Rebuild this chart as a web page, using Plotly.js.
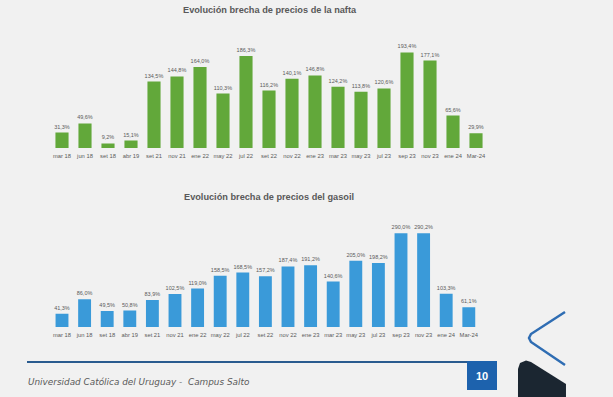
<!DOCTYPE html>
<html>
<head>
<meta charset="utf-8">
<script src="https://cdn.plot.ly/plotly-3.0.1.min.js"></script>
<style>
html,body{margin:0;padding:0;background:#f1f1f1;}
#chart{width:613px;height:397px;}
</style>
</head>
<body>
<div id="chart"></div>
<script>
const categories = ["mar 18","jun 18","set 18","abr 19","set 21","nov 21","ene 22","may 22","jul 22","set 22","nov 22","ene 23","mar 23","may 23","jul 23","sep 23","nov 23","ene 24","Mar-24"];
const nafta = [31.3, 49.6, 9.2, 15.1, 134.5, 144.8, 164.0, 110.3, 186.3, 116.2, 140.1, 146.8, 124.2, 113.8, 120.6, 193.4, 177.1, 65.6, 29.9];
const gasoil = [41.3, 86.0, 49.5, 50.8, 83.9, 102.5, 119.0, 158.5, 168.5, 157.2, 187.4, 191.2, 140.6, 205.0, 198.2, 290.0, 290.2, 103.3, 61.1];
const titleNafta = "Evolución brecha de precios de la nafta";
const titleGasoil = "Evolución brecha de precios del gasoil";
const footerText = "Universidad Católica del Uruguay -  Campus Salto";
const pageNumber = "10";

const W = 613, H = 397;
const px = x => x / W;
const py = y => 1 - y / H;
function path(pts, close) {
  return pts.map((p, i) => (i ? 'L' : 'M') + px(p[0]).toFixed(4) + ',' + py(p[1]).toFixed(4)).join(' ') + (close ? ' Z' : '');
}

const labelFont = {family: 'Liberation Sans, Arial, sans-serif', size: 5.5, color: '#5a5a5a'};

const traces = [
  {type: 'bar', x: categories, y: nafta, xaxis: 'x', yaxis: 'y',
   marker: {color: '#62a83a'}, texttemplate: '%{y:.1f}%', textposition: 'outside',
   textfont: labelFont, constraintext: 'none', cliponaxis: false, hoverinfo: 'none'},
  {type: 'bar', x: categories, y: gasoil, xaxis: 'x2', yaxis: 'y2',
   marker: {color: '#3a9ad9'}, texttemplate: '%{y:.1f}%', textposition: 'outside',
   textfont: labelFont, constraintext: 'none', cliponaxis: false, hoverinfo: 'none'}
];

const xCommon = {type: 'category', showgrid: false, zeroline: false, showline: false, ticks: '',
  ticklabelstandoff: 3,
  tickfont: {family: 'Liberation Sans, Arial, sans-serif', size: 5.8, color: '#5a5a5a'}, tickangle: 0, fixedrange: true};
const yCommon = {showgrid: false, zeroline: false, showline: false, showticklabels: false, ticks: '', fixedrange: true};

const layout = {
  width: W, height: H,
  margin: {l: 0, r: 0, t: 0, b: 0},
  paper_bgcolor: '#f1f1f1', plot_bgcolor: 'rgba(0,0,0,0)',
  separators: ',.',
  showlegend: false,
  bargap: 0.43,
  xaxis: Object.assign({}, xCommon, {domain: [px(50.5), px(487.5)], anchor: 'y', range: [-0.5, 18.5]}),
  yaxis: Object.assign({}, yCommon, {domain: [py(148), py(48)], anchor: 'x', range: [0, 202.4]}),
  xaxis2: Object.assign({}, xCommon, {domain: [px(50.7), px(480.1)], anchor: 'y2', range: [-0.5, 18.5]}),
  yaxis2: Object.assign({}, yCommon, {domain: [py(327), py(227)], anchor: 'x2', range: [0, 309.6]}),
  annotations: [
    {text: '<b>' + titleNafta + '</b>', xref: 'paper', yref: 'paper', x: px(270), y: py(10), showarrow: false,
     font: {family: 'Liberation Sans, Arial, sans-serif', size: 9.2, color: '#595959'}, xanchor: 'center', yanchor: 'middle'},
    {text: '<b>' + titleGasoil + '</b>', xref: 'paper', yref: 'paper', x: px(269), y: py(197), showarrow: false,
     font: {family: 'Liberation Sans, Arial, sans-serif', size: 9.2, color: '#595959'}, xanchor: 'center', yanchor: 'middle'},
    {text: '<i>' + footerText + '</i>', xref: 'paper', yref: 'paper', x: px(26), y: py(382), showarrow: false,
     font: {family: 'DejaVu Sans, sans-serif', size: 8.9, color: '#5a5a5a'}, xanchor: 'left', yanchor: 'middle'},
    {text: '<b>' + pageNumber + '</b>', xref: 'paper', yref: 'paper', x: px(482), y: py(376), showarrow: false,
     font: {family: 'Liberation Sans, Arial, sans-serif', size: 11, color: '#ffffff'}, xanchor: 'center', yanchor: 'middle'}
  ],
  shapes: [
    {type: 'line', xref: 'paper', yref: 'paper', x0: px(27), x1: px(468), y0: py(362), y1: py(362),
     line: {color: '#2a5b8f', width: 2}},
    {type: 'rect', xref: 'paper', yref: 'paper', x0: px(467), x1: px(497), y0: py(361), y1: py(390),
     fillcolor: '#1d62ad', line: {width: 0}},
    {type: 'path', xref: 'paper', yref: 'paper',
     path: path([[518, 397], [518, 369], [520, 363], [526, 360.5], [531, 362], [566, 384], [566, 397]], true),
     fillcolor: '#1b2631', line: {width: 0}},
    {type: 'path', xref: 'paper', yref: 'paper',
     path: path([[565, 312], [531, 334], [529, 338], [531, 342], [565, 365]], false),
     line: {color: '#2f6db3', width: 2.5}}
  ]
};

Plotly.newPlot('chart', traces, layout, {staticPlot: true, displayModeBar: false});
</script>
</body>
</html>
